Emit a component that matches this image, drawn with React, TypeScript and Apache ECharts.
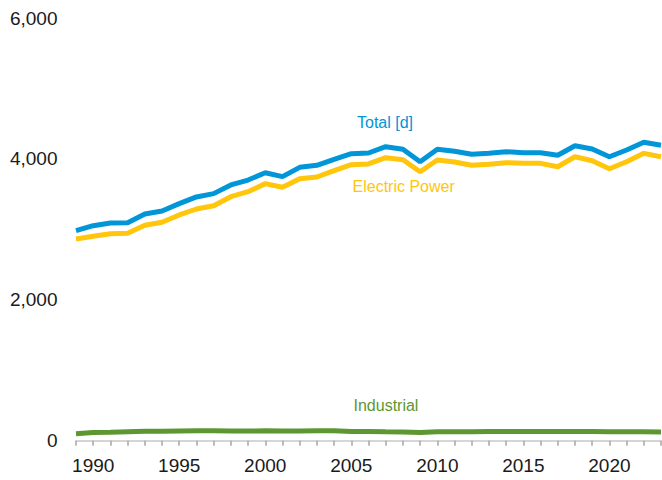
import React, { useEffect, useRef } from "react";
import * as echarts from "echarts";

const years: string[] = [];
for (let y = 1989; y <= 2023; y++) years.push(String(y));

const total = [
  2981, 3052, 3090, 3095, 3218, 3260, 3365, 3460, 3507, 3630, 3700, 3804,
  3748, 3880, 3909, 3994, 4074, 4084, 4173, 4136, 3960, 4136, 4108, 4065,
  4079, 4102, 4088, 4088, 4051, 4187, 4140, 4031, 4126, 4236, 4193,
];
const electricPower = [
  2863, 2901, 2938, 2944, 3057, 3100, 3204, 3289, 3336, 3464, 3535, 3649,
  3597, 3719, 3743, 3833, 3918, 3928, 4017, 3989, 3818, 3984, 3956, 3909,
  3923, 3946, 3937, 3937, 3889, 4031, 3974, 3861, 3960, 4079, 4031,
];
const industrial = [
  100, 118, 120, 128, 133, 135, 138, 140, 140, 138, 138, 140, 136, 138, 140,
  140, 130, 132, 128, 125, 118, 126, 126, 128, 132, 132, 130, 130, 130, 132,
  130, 128, 128, 128, 125,
];

const BLUE = "#0096D7";
const YELLOW = "#FFC60B";
const GREEN = "#5D9732";
const FONT = "'Liberation Sans', Arial, sans-serif";

export default function App() {
  const ref = useRef<HTMLDivElement>(null);
  useEffect(() => {
    if (!ref.current) return;
    const chart = echarts.init(ref.current, undefined, { renderer: "svg" });
    const line = (name: string, data: number[], color: string) => ({
      name,
      type: "line",
      data,
      symbol: "none",
      lineStyle: { color, width: 5 },
      itemStyle: { color },
      z: 2,
    });
    chart.setOption({
      animation: false,
      textStyle: { fontFamily: FONT },
      grid: { left: 76, right: 1, top: 18, bottom: 39.3 },
      xAxis: {
        type: "category",
        data: years,
        boundaryGap: false,
        axisLine: { show: true, lineStyle: { color: "#C8C8C8", width: 1.5 } },
        axisTick: { show: true, interval: 0, length: 5, lineStyle: { color: "#A6A6A6", width: 1.5 } },
        axisLabel: {
          interval: (_i: number, v: string) => Number(v) % 5 === 0,
          fontSize: 19,
          color: "#1a1a1a",
          margin: 15,
          fontFamily: FONT,
        },
        splitLine: { show: false },
      },
      yAxis: {
        type: "value",
        min: 0,
        max: 6000,
        interval: 2000,
        axisLine: { show: false },
        axisTick: { show: false },
        splitLine: { show: false },
        axisLabel: {
          fontSize: 19,
          color: "#1a1a1a",
          margin: 18.5,
          fontFamily: FONT,
          formatter: (v: number) => v.toLocaleString("en-US"),
        },
      },
      series: [
        line("Industrial", industrial, GREEN),
        line("Electric Power", electricPower, YELLOW),
        line("Total [d]", total, BLUE),
      ],
      graphic: [
        {
          type: "text",
          left: 357,
          top: 114,
          style: { text: "Total [d]", fill: BLUE, fontSize: 16, fontFamily: FONT },
        },
        {
          type: "text",
          left: 352.5,
          top: 178,
          style: { text: "Electric Power", fill: YELLOW, fontSize: 16, fontFamily: FONT },
        },
        {
          type: "text",
          left: 353.5,
          top: 397,
          style: { text: "Industrial", fill: GREEN, fontSize: 16, fontFamily: FONT },
        },
      ],
    });
    return () => chart.dispose();
  }, []);
  return <div ref={ref} style={{ width: 662, height: 480, position: "absolute", left: 0, top: 0 }} />;
}
